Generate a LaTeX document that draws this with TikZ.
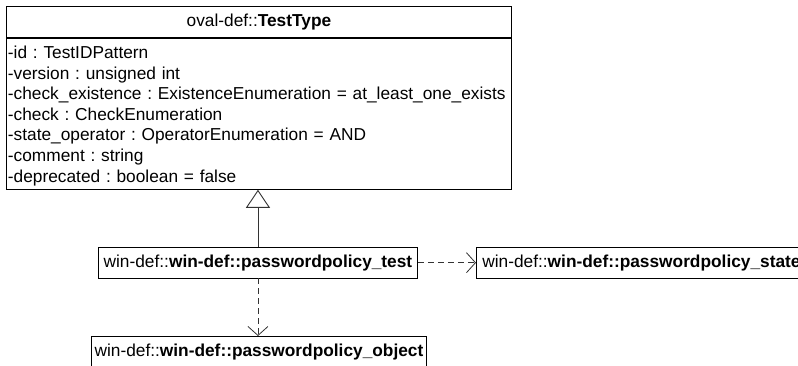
\documentclass[tikz,border=0pt]{standalone}
\usepackage{fontspec}
\setmainfont{Liberation Sans}
\usetikzlibrary{arrows.meta,positioning}
\frenchspacing

\tikzset{
  umlbox/.style={draw,fill=white,line width=0.9pt,inner xsep=0pt,inner ysep=0pt,minimum height=30.5pt},
  umlattrs/.style={draw,fill=white,line width=0.9pt,align=left,anchor=north west,inner xsep=1.5pt,inner ysep=0pt},
  depend/.style={draw=black!80,line width=0.8pt,dash pattern=on 6pt off 4pt,-{Straight Barb[length=9pt,width=20pt,line width=0.8pt]}},
  generalize/.style={draw=black!80,line width=0.8pt,-{Triangle[open,length=18pt,width=24pt,line width=0.9pt,fill=white]}}
}

\begin{document}
\begin{tikzpicture}[x=1pt,y=-1pt,font=\fontsize{17.3}{20.6}\selectfont]
  \useasboundingbox (0,0) rectangle (798,366);
  \clip (0,0) rectangle (798,366);

  % oval-def test type
  \node[umlbox,anchor=north west,minimum width=505pt,minimum height=31.5pt] (testtype) at (6,6) {oval-def::\textbf{TestType}};
  \node[umlattrs,text width=502pt,minimum height=150.5pt] (testattrs) at (testtype.south west) {\rule{0pt}{16pt}-id : TestIDPattern\\
-version : unsigned int\\
-check\_existence : ExistenceEnumeration = at\_least\_one\_exists\\
-check : CheckEnumeration\\
-state\_operator : OperatorEnumeration = AND\\
-comment : string\\
-deprecated : boolean = false};

  % win-def classes
  \node[umlbox,anchor=north west,minimum width=319pt] (test) at (98,247) {win-def::\textbf{win-def::passwordpolicy\_test}};
  \node[umlbox,anchor=north west,minimum width=330pt] (state) at (476,247) {win-def::\textbf{win-def::passwordpolicy\_state}};
  \node[umlbox,anchor=north west,minimum width=335pt] (object) at (91,336) {win-def::\textbf{win-def::passwordpolicy\_object}};

  \draw[generalize] (test.north) -- (test.north |- testattrs.south);
  \draw[depend] (test.east) -- (state.west);
  \draw[depend] (test.south) -- (test.south |- object.north);
\end{tikzpicture}
\end{document}
